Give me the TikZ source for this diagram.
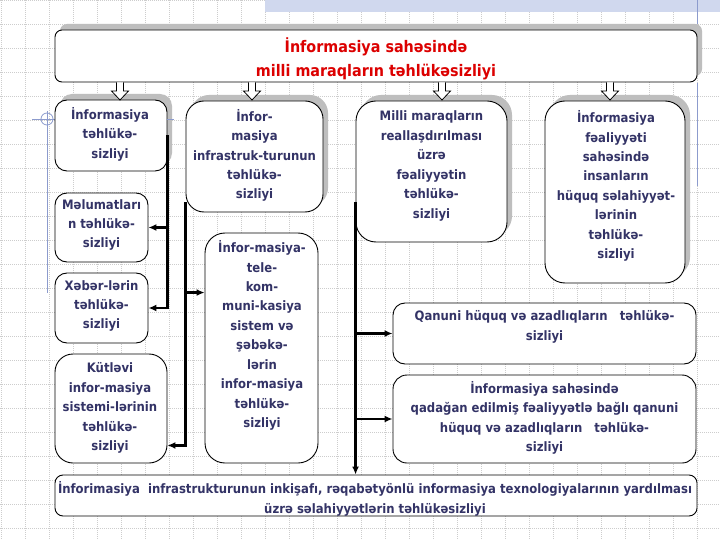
\documentclass[tikz,border=0pt]{standalone}
\usepackage{fontspec}
\setmainfont{DejaVu Sans}[FakeStretch=0.9]
\usetikzlibrary{calc,shadows,arrows.meta}
\definecolor{txtc}{RGB}{51,51,102}
\definecolor{redc}{RGB}{220,0,0}
\definecolor{shc}{RGB}{190,190,190}
\definecolor{gridc}{RGB}{205,205,205}
\definecolor{bluel}{RGB}{140,155,205}
\definecolor{bandc}{RGB}{208,216,238}
\begin{document}
\begin{tikzpicture}[x=1bp,y=-1bp,
 box/.style={draw=black, line width=0.9bp, fill=white, inner sep=0pt},
 shbox/.style={box, drop shadow={shadow xshift=5bp, shadow yshift=6bp, fill=shc, opacity=1}},
 txt/.style={align=center, text=txtc, font=\fontsize{13}{19.5}\selectfont\bfseries, inner sep=0pt},
 conn/.style={line width=2.4bp, -{Latex[length=8bp,width=7bp]}},
 gridline/.style={gridc, line width=0.6bp, dash pattern=on 1bp off 1bp},
 harrow/.style={draw=black, fill=white, line width=0.8bp},
 blueline/.style={bluel, line width=0.8bp}]
\useasboundingbox (0,0) rectangle (720,540);
\fill[white] (0,0) rectangle (720,540);
% grid
\foreach \x in {1,25,...,721} \draw[gridline] (\x,0) -- (\x,540);
\foreach \y in {0,24,...,540} \draw[gridline] (0,\y) -- (720,\y);
% top band
\fill[bandc] (265,0) rectangle (720,12);
% blue guide lines
\draw[blueline] (47,111) -- (47,293);
\draw[blueline] (32,119) -- (60,119);
\draw[blueline] (47,119) circle[radius=6];

% boxes
\node[shbox, minimum width=642bp, minimum height=52bp, rounded corners=7bp] (T) at (376,56) {};
\node[shbox, minimum width=112bp, minimum height=71bp, rounded corners=12bp] (A) at (111,135.5) {};
\node[box, minimum width=93bp, minimum height=69bp, rounded corners=12bp] (B) at (101.5,227.5) {};
\node[box, minimum width=93bp, minimum height=70bp, rounded corners=12bp] (C) at (101.5,308) {};
\node[box, minimum width=112bp, minimum height=109bp, rounded corners=18bp] (D) at (111,408.5) {};
\node[shbox, minimum width=137bp, minimum height=111bp, rounded corners=18bp] (E) at (254.5,156.5) {};
\node[box, minimum width=113bp, minimum height=230bp, rounded corners=20bp] (F) at (261.5,348) {};
\node[shbox, minimum width=151bp, minimum height=141bp, rounded corners=20bp] (G) at (431.5,171.5) {};
\node[shbox, minimum width=140bp, minimum height=182bp, rounded corners=20bp] (H) at (615,192) {};
\node[box, minimum width=303bp, minimum height=61bp, rounded corners=12bp] (I) at (544.5,333.5) {};
\node[box, minimum width=303bp, minimum height=88bp, rounded corners=14bp] (J) at (544.5,419) {};
\node[box, minimum width=642bp, minimum height=41bp, rounded corners=8bp] (K) at (376,495.5) {};

% texts
\node[txt, text=redc, font=\fontsize{16}{24}\selectfont\bfseries] (Tt) at (376,59) {İnformasiya sahəsində\\milli maraqların təhlükəsizliyi};
\node[txt] (At) at (110,134) {İnformasiya\\təhlükə-\\sizliyi};
\node[txt] (Bt) at (101.5,225) {Məlumatları\\n təhlükə-\\sizliyi};
\node[txt] (Ct) at (101.5,306) {Xəbər-lərin\\təhlükə-\\sizliyi};
\node[txt] (Dt) at (110,408) {Kütləvi\\infor-masiya\\sistemi-lərinin\\təhlükə-\\sizliyi};
\node[txt] (Et) at (254.5,155.5) {İnfor-\\masiya\\infrastruk-turunun\\təhlükə-\\sizliyi};
\node[txt] (Ft) at (262,335.5) {İnfor-masiya-\\tele-\\kom-\\muni-kasiya\\sistem və\\şəbəkə-\\lərin\\infor-masiya\\təhlükə-\\sizliyi};
\node[txt] (Gt) at (431.5,166) {Milli maraqların\\reallaşdırılması\\üzrə\\fəaliyyətin\\təhlükə-\\sizliyi};
\node[txt] (Ht) at (616,186) {İnformasiya\\fəaliyyəti\\sahəsində\\insanların\\hüquq səlahiyyət-\\lərinin\\təhlükə-\\sizliyi};
\node[txt] (It) at (544.5,327) {Qanuni hüquq və azadlıqların\ \ \ təhlükə-\\sizliyi};
\node[txt] (Jt) at (544.5,418) {İnformasiya sahəsində\\qadağan edilmiş fəaliyyətlə bağlı qanuni\\hüquq və azadlıqların\ \ \ təhlükə-\\sizliyi};
\node[txt] (Kt) at (375,499) {İnforimasiya\ \ infrastrukturunun inkişafı, rəqabətyönlü informasiya texnologiyalarının yardılması\\üzrə səlahiyyətlərin təhlükəsizliyi};

% hollow arrows from the top box
\foreach \c in {120,252,442,610}
  \draw[harrow] ({\c-3.5},82.5) -- ({\c-3.5},91) -- ({\c-8.5},91) -- (\c,100) -- ({\c+8.5},91) -- ({\c+3.5},91) -- ({\c+3.5},82.5);

% connectors
\draw[conn] (A.east) |- (B.east);
\draw[conn] (A.east) |- (C.east);
\coordinate (Es) at ($(E.south west)+(0,-10)$);
\coordinate (Fin) at ($(F.north west)+(0,60)$);
\coordinate (Din) at ($(D.south east)+(0,-18)$);
\draw[conn] (Es |- Fin) -- (Fin);
\draw[conn] (Es) |- (Din);
\coordinate (Gs) at ($(G.south west)+(0,-40)$);
\draw[conn] (Gs) -- (Gs |- K.north);
\draw[conn] (Gs |- I.west) -- (I.west);
\draw[conn] (Gs |- J.west) -- (J.west);

% blue lines on top
\draw[blueline] (167,119) -- (174,119);
\draw[blueline] (697,0) -- (697,24);
\draw[blueline] (697,83) -- (697,186);
\end{tikzpicture}
\end{document}
